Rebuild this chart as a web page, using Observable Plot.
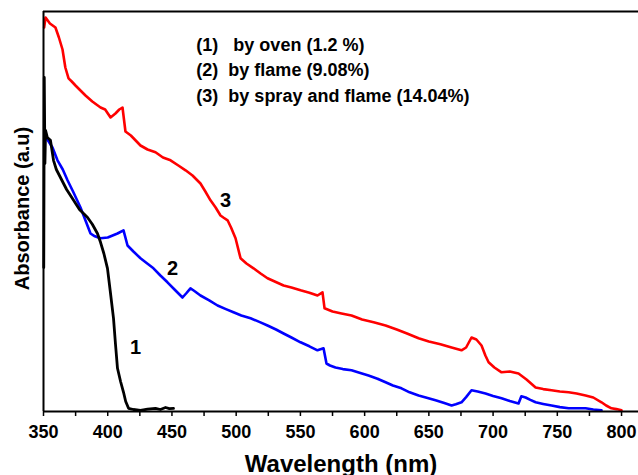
<!DOCTYPE html>
<html>
<head>
<meta charset="utf-8">
<script src="https://cdn.jsdelivr.net/npm/d3@7"></script>
<script src="https://cdn.jsdelivr.net/npm/@observablehq/plot@0.6"></script>
<style>
  html, body { margin: 0; padding: 0; background: #fff; }
  #chart svg { font-family: "Liberation Sans", Arial, sans-serif; overflow: visible; }
  #chart svg text { white-space: pre; }
</style>
</head>
<body>
<div id="chart"></div>
<script>
// Sample 3: by spray and flame (red)
const redWl  = [350.5, 351.6, 355, 359.3, 362, 364.8, 367, 369.5, 372, 374.9, 378, 382.7, 388, 394.4, 398, 402.2, 406, 409, 411.5, 413.8, 418, 425.5, 431, 437.2, 443, 448.9, 455, 460.6, 466, 472.2, 476, 480, 484, 487.8, 490, 493.3, 496, 499.5, 503.4, 508, 513.5, 519, 524.4, 530, 536.9, 543, 550.1, 557, 563.3, 567.2, 568.8, 575, 582, 589.8, 598, 607, 616.3, 625, 633, 642, 650, 659, 667.7, 675.4, 679, 683.2, 687, 691, 694, 696.5, 701, 706.6, 713, 719.8, 726, 733.1, 739, 745.5, 752, 758.8, 765, 772, 778, 784.4, 788, 792.2, 796, 800];
const redAbs = [96, 98.5, 97, 96, 93.5, 90.5, 86, 83.3, 82.5, 81.5, 80.5, 79, 77.5, 76, 75.5, 73.5, 74.5, 75.5, 76, 70, 69, 66.5, 65.5, 64.8, 63.5, 62.8, 61.5, 60.3, 59, 57, 55, 52.8, 51, 49, 48.5, 47.8, 46, 43.3, 38.3, 37, 35.8, 34.5, 33.3, 32.5, 31.5, 31, 30.3, 29.7, 29, 29.8, 25.8, 25, 24.5, 24, 23, 22.3, 21.5, 20.5, 19.5, 18.3, 17.5, 16.8, 16, 15.3, 16, 18.5, 18, 16.5, 14, 12.3, 11, 9.8, 10, 9.5, 8, 6, 5.6, 5.3, 5, 4.8, 4.5, 4, 3.5, 2.3, 1.5, 0.8, 0.6, 0.3];

// Sample 2: by flame (blue)
const blueWl  = [353, 357, 360.9, 365, 368.7, 373, 378.8, 383, 386.6, 390, 394.4, 400, 407.6, 412.3, 415.4, 420, 425.5, 430, 435.6, 441, 446.5, 452, 458.2, 461, 464.4, 468, 472.2, 479, 485.5, 492, 497.9, 504, 511.2, 518, 524.4, 531, 536.9, 543, 550.1, 557, 563.3, 568, 570.3, 573, 577.3, 583, 589.8, 596, 603, 610, 616.3, 622, 628.7, 635, 642, 649, 655.2, 662, 667.7, 671, 675.4, 679, 683.2, 688, 694.1, 700, 706.6, 713, 719.8, 722, 725.3, 729, 733.1, 739, 745.5, 752, 758.8, 765, 772, 778, 784.4];
const blueAbs = [68, 66, 62.8, 60.5, 57.8, 55, 51, 47.5, 44.5, 43.8, 43.3, 43.5, 44.5, 45.3, 41.5, 40, 38.3, 37.2, 35.8, 34, 32.3, 30.5, 28.5, 29.5, 30.8, 30, 29, 27.8, 26.5, 25.6, 24.8, 24, 23.3, 22.4, 21.5, 20.5, 19.5, 18.5, 17.3, 16.3, 15.3, 15.8, 12, 11.5, 11, 10.6, 10.3, 9.7, 9, 8.2, 7.3, 6.5, 5.8, 4.8, 4, 3.4, 2.8, 2.1, 1.5, 1.8, 2.3, 3.6, 5.3, 5, 4.5, 3.9, 3.3, 2.6, 2, 3.8, 3.5, 2.9, 2.3, 1.9, 1.5, 1.1, 0.8, 0.8, 0.8, 0.5, 0.3];

// Sample 1: by oven (black)
const blackWl  = [350.2, 350.6, 351.1, 351.6, 353, 355.4, 357.8, 360, 363.2, 368, 373.4, 378, 384.3, 388, 392, 394.4, 397, 399.8, 402, 404.5, 406, 407.6, 410, 412.3, 414, 416.2, 420, 425.5, 431, 437.2, 441, 445, 448, 451.2];
const blackAbs = [36, 83.5, 62, 70.3, 68.5, 67.8, 62.8, 60.5, 58.5, 55.5, 52.8, 50.5, 48.5, 46.8, 44.5, 42.3, 39.5, 35.8, 30, 23.3, 17, 10.8, 7.5, 4.8, 2.5, 0.8, 0.5, 0.3, 0.6, 0.8, 0.5, 1, 0.7, 0.8];

const curveLabels = ["1", "2", "3"];
const curveLabelWl = [421.6, 450.4, 491.7];
const curveLabelAbs = [16, 35.8, 52.8];

const legendLines = ["(1)   by oven (1.2 %)", "(2)  by flame (9.08%)", "(3)  by spray and flame (14.04%)"];
const legendAbs = [91.5, 85.3, 78.8];
const legendWl = 469;

const majorTicks = [350, 400, 450, 500, 550, 600, 650, 700, 750, 800];
const minorTicks = [375, 425, 475, 525, 575, 625, 675, 725, 775];

const series = (wl, ab) => wl.map((w, i) => ({wl: w, abs: ab[i]}));
const red = series(redWl, redAbs);
const blue = series(blueWl, blueAbs);
const black = series(blackWl, blackAbs);
const labels = curveLabels.map((t, i) => ({t, wl: curveLabelWl[i], abs: curveLabelAbs[i]}));
const legend = legendLines.map((t, i) => ({t, wl: legendWl, abs: legendAbs[i]}));

const chart = Plot.plot({
  width: 638,
  height: 475,
  marginLeft: 43,
  marginRight: 0,
  marginTop: 11,
  marginBottom: 64,
  style: {background: "#fff", color: "#000"},
  x: {domain: [350, 813.2]},
  y: {domain: [0, 100], axis: null},
  marks: [
    Plot.line(red, {x: "wl", y: "abs", stroke: "#ff0000", strokeWidth: 2.6}),
    Plot.line(blue, {x: "wl", y: "abs", stroke: "#0000ff", strokeWidth: 2.6}),
    Plot.line(black, {x: "wl", y: "abs", stroke: "#000", strokeWidth: 2.8}),
    Plot.ruleY([100], {stroke: "#000", strokeWidth: 2}),
    Plot.ruleX([350], {stroke: "#000", strokeWidth: 2}),
    Plot.ruleY([0], {stroke: "#000", strokeWidth: 2}),
    Plot.axisX(minorTicks, {tickSize: 5, tickFormat: () => "", strokeWidth: 1.5, label: null}),
    Plot.axisX(majorTicks, {tickSize: 5, tickPadding: 9, strokeWidth: 1.5, fontSize: 18, fontWeight: "bold", tickFormat: d => String(d), label: null}),
    Plot.text(labels, {x: "wl", y: "abs", text: "t", fontSize: 20, fontWeight: "bold", fill: "#000"}),
    Plot.text(legend, {x: "wl", y: "abs", text: "t", textAnchor: "start", fontSize: 18, fontWeight: "bold", fill: "#000"}),
    Plot.text(["Wavelength (nm)"], {frameAnchor: "bottom", dy: 60, fontSize: 24, fontWeight: "bold", fill: "#000"}),
    Plot.text(["Absorbance (a.u)"], {frameAnchor: "left", textAnchor: "middle", dx: -21, dy: -3, rotate: -90, fontSize: 20, fontWeight: "bold", fill: "#000"})
  ]
});
document.getElementById("chart").appendChild(chart);
</script>
</body>
</html>
